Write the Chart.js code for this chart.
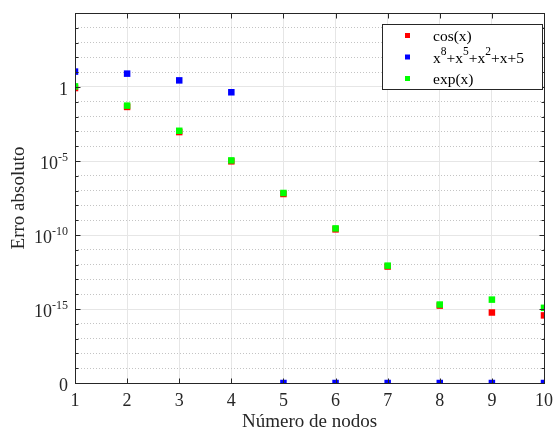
<!DOCTYPE html>
<html>
<head>
<meta charset="utf-8">
<title>Erro absoluto</title>
<script src="https://cdn.jsdelivr.net/npm/chart.js@4/dist/chart.umd.min.js"></script>
<style>
    html, body { margin: 0; padding: 0; background: #ffffff; }
    #wrap { width: 553px; height: 430px; }
</style>
</head>
<body>
<div id="wrap"><canvas id="errChart" width="553" height="430"></canvas></div>
<script>
/* ========================================
   Data
   ======================================== */

const nodes = [1, 2, 3, 4, 5, 6, 7, 8, 9, 10];

// absolute interpolation errors; 0 is drawn on the bottom line ("0" tick)
const cosErr  = [0.85, 0.045, 9.0e-4, 9.5e-6, 5.9e-8, 2.4e-10, 7.4e-13, 1.7e-15, 5.8e-16, 3.7e-16];
const polyErr = [11, 8, 2.8, 0.44, 0, 0, 0, 0, 0, 0];
const expErr  = [1.1, 0.055, 1.1e-3, 1.1e-5, 6.9e-8, 2.8e-10, 8.5e-13, 2.0e-15, 4.3e-15, 1.2e-15];

const seriesNames = ['cos(x)', 'x^8+x^5+x^2+x+5', 'exp(x)'];
const seriesColors = ['#ff0000', '#0000ff', '#00ff00'];

// y axis: labelled ticks [base, exponent]
const yMajorValues = [1e-20, 1e-15, 1e-10, 1e-5, 1];
const yMajorLabels = [['0', ''], ['10', '-15'], ['10', '-10'], ['10', '-5'], ['1', '']];
const yMin = 1e-20;
const yMax = 1e5;

const AXIS_COLOR = '#262626';
const SERIF = "'Liberation Serif', 'Times New Roman', serif";

/* ========================================
   Helpers
   ======================================== */

function toPoints(values) {
    // zeros can't go on a log axis, put them on the "0" line
    return nodes.map((n, i) => ({ x: n, y: values[i] > 0 ? values[i] : yMin }));
}

function isMajorValue(v) {
    return Math.round(Math.log10(v)) % 5 === 0;
}

function decadeTicks() {
    const ticks = [];
    for (let e = Math.log10(yMin); e <= Math.log10(yMax); e++) {
        ticks.push({ value: Math.pow(10, e) });
    }
    return ticks;
}

/* ========================================
   Box, inner ticks, y labels and legend
   ======================================== */

const matlabFrame = {
    id: 'matlabFrame',
    afterDraw(chart) {
        const ctx = chart.ctx;
        const area = chart.chartArea;
        const xs = chart.scales.x;
        const ys = chart.scales.y;
        const L = Math.round(area.left) + 0.5;
        const R = Math.round(area.right) + 0.5;
        const T = Math.round(area.top) + 0.5;
        const B = Math.round(area.bottom) + 0.5;

        ctx.save();
        ctx.strokeStyle = AXIS_COLOR;
        ctx.lineWidth = 1;
        ctx.strokeRect(L, T, R - L, B - T);

        // inward tick marks
        ctx.beginPath();
        xs.ticks.forEach(t => {
            const px = Math.round(xs.getPixelForValue(t.value)) + 0.5;
            ctx.moveTo(px, B); ctx.lineTo(px, B - 5);
            ctx.moveTo(px, T); ctx.lineTo(px, T + 5);
        });
        ys.ticks.forEach(t => {
            const py = Math.round(ys.getPixelForValue(t.value)) + 0.5;
            const len = isMajorValue(t.value) ? 5 : 3;
            ctx.moveTo(L, py); ctx.lineTo(L + len, py);
            ctx.moveTo(R, py); ctx.lineTo(R - len, py);
        });
        ctx.stroke();

        // y tick labels with superscript exponents
        ctx.fillStyle = AXIS_COLOR;
        ctx.textBaseline = 'alphabetic';
        ctx.textAlign = 'left';
        const labelRight = area.left - 7;
        yMajorValues.forEach((v, i) => {
            const py = ys.getPixelForValue(v);
            const base = yMajorLabels[i][0];
            const expo = yMajorLabels[i][1];
            ctx.font = '12px ' + SERIF;
            const expW = expo ? ctx.measureText(expo).width : 0;
            ctx.font = '18px ' + SERIF;
            const baseW = ctx.measureText(base).width;
            const x0 = labelRight - expW - baseW;
            ctx.fillText(base, x0, py + 8);
            if (expo) {
                ctx.font = '12px ' + SERIF;
                ctx.fillText(expo, x0 + baseW, py - 0.5);
            }
        });

        // legend box
        const box = { x: 382, y: 24, w: 160, h: 65 };
        ctx.fillStyle = '#ffffff';
        ctx.fillRect(box.x, box.y, box.w, box.h);
        ctx.strokeStyle = AXIS_COLOR;
        ctx.strokeRect(box.x + 0.5, box.y + 0.5, box.w, box.h);

        const rows = [35.5, 57, 78.5];
        rows.forEach((ry, i) => {
            ctx.fillStyle = seriesColors[i];
            ctx.fillRect(405, ry - 2.5, 5, 5);
            ctx.fillStyle = '#000000';
            drawLegendText(ctx, seriesNames[i], 433, ry + 5.5);
        });
        ctx.restore();
    }
};

// writes text like "x^8+x^5" with raised small digits
function drawLegendText(ctx, text, x, baseline) {
    const parts = text.split(/(\^\d+)/);
    let cx = x;
    parts.forEach(p => {
        if (!p) return;
        if (p[0] === '^') {
            ctx.font = '11.5px ' + SERIF;
            ctx.fillText(p.slice(1), cx, baseline - 8);
            cx += ctx.measureText(p.slice(1)).width;
        } else {
            ctx.font = '15.5px ' + SERIF;
            ctx.fillText(p, cx, baseline);
            cx += ctx.measureText(p).width;
        }
    });
}

/* ========================================
   Chart
   ======================================== */

function makeDataset(i, values, order) {
    return {
        label: seriesNames[i],
        data: toPoints(values),
        showLine: false,
        pointStyle: 'rect',
        pointRadius: 4.6,
        pointHoverRadius: 4.6,
        pointBorderWidth: 0,
        pointBackgroundColor: seriesColors[i],
        backgroundColor: seriesColors[i],
        borderColor: seriesColors[i],
        order: order
    };
}

new Chart(document.getElementById('errChart'), {
    type: 'scatter',
    data: {
        datasets: [
            makeDataset(0, cosErr, 2),
            makeDataset(1, polyErr, 1),
            makeDataset(2, expErr, 0)
        ]
    },
    options: {
        responsive: false,
        animation: false,
        layout: {
            padding: { top: 13, right: 9, left: 0, bottom: 0 }
        },
        plugins: {
            legend: { display: false },
            tooltip: { enabled: false }
        },
        scales: {
            x: {
                type: 'linear',
                min: 1,
                max: 10,
                ticks: {
                    stepSize: 1,
                    color: AXIS_COLOR,
                    padding: 0,
                    // tall line box pushes the labels down instead of tick padding
                    font: { family: SERIF, size: 18, lineHeight: 2 }
                },
                grid: { color: '#e6e6e6', drawTicks: false },
                border: { display: false },
                title: {
                    display: true,
                    text: 'Número de nodos',
                    color: AXIS_COLOR,
                    font: { family: SERIF, size: 19 },
                    padding: { top: 0, bottom: -3 }
                },
                afterFit: scale => { scale.height = 47; }
            },
            y: {
                type: 'logarithmic',
                min: yMin,
                max: yMax,
                afterBuildTicks: scale => { scale.ticks = decadeTicks(); },
                ticks: { display: false },
                grid: {
                    drawTicks: false,
                    color: c => (c.tick && !isMajorValue(c.tick.value)) ? '#c4c4c4' : '#e6e6e6'
                },
                border: {
                    display: false,
                    dash: c => (c.tick && !isMajorValue(c.tick.value)) ? [1, 2] : []
                },
                title: {
                    display: true,
                    text: 'Erro absoluto',
                    color: AXIS_COLOR,
                    font: { family: SERIF, size: 19 },
                    padding: { top: 8, bottom: 0 }
                },
                afterFit: scale => { scale.width = 75; }
            }
        }
    },
    plugins: [matlabFrame]
});
</script>
</body>
</html>
